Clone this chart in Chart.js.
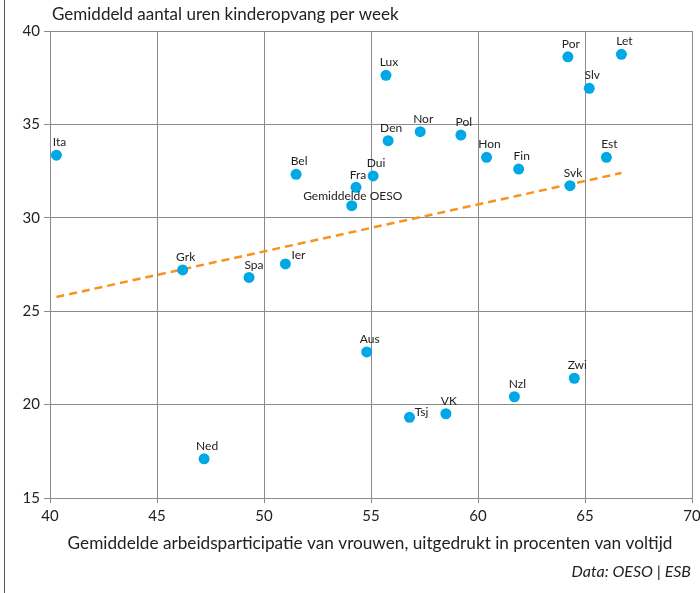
<!DOCTYPE html>
<html>
<head>
<meta charset="utf-8">
<script src="https://cdn.jsdelivr.net/npm/chart.js@4"></script>
<style>
  html, body { margin: 0; padding: 0; background: #fff; }
  #wrap { position: relative; width: 700px; height: 593px; }
  #edge { position: absolute; left: 4px; top: 0; width: 1px; height: 593px; background: #555; }
  #canvas { position: absolute; left: 0; top: 0; }
</style>
</head>
<body>
<div id="wrap">
  <div id="edge"></div>
  <canvas id="canvas" width="700" height="593"></canvas>
</div>
<script>
const countries = ['Ita','Bel','Lux','Den','Nor','Pol','Hon','Fin','Svk','Est','Por','Let','Slv',
  'Dui','Fra','Gemiddelde OESO','Grk','Spa','Ier','Aus','Zwi','Nzl','Tsj','VK','Ned'];
const participation = [40.3, 51.5, 55.7, 55.8, 57.3, 59.2, 60.4, 61.9, 64.3, 66.0, 64.2, 66.7, 65.2,
  55.1, 54.3, 54.1, 46.2, 49.3, 51.0, 54.8, 64.5, 61.7, 56.8, 58.5, 47.2];
const childcareHours = [33.35, 32.33, 37.63, 34.13, 34.61, 34.43, 33.24, 32.61, 31.72, 33.24, 38.62, 38.75, 36.93,
  32.24, 31.63, 30.65, 27.21, 26.81, 27.53, 22.82, 21.41, 20.42, 19.32, 19.51, 17.1];
const trendX = [40.3, 66.7];
const trendY = [25.76, 32.4];
const xTicks = [40, 45, 50, 55, 60, 65, 70];
const yTicks = [15, 20, 25, 30, 35, 40];

// label offsets (style only)
const labelShift = {
  'Ier': [13, -9], 'Tsj': [12, -5], 'Spa': [5, -12],
  'Gemiddelde OESO': [1, -10], 'Fra': [2, -12]
};

const FONT = 'Lato';
const TEXT = '#222';

const pointLabels = {
  id: 'pointLabels',
  afterDatasetsDraw(chart){
    const ctx = chart.ctx;
    const meta = chart.getDatasetMeta(0);
    ctx.save();
    ctx.font = '12px ' + FONT;
    ctx.fillStyle = TEXT;
    ctx.textAlign = 'center';
    ctx.textBaseline = 'middle';
    meta.data.forEach((pt, i) => {
      const name = countries[i];
      const s = labelShift[name] || [3, -13];
      ctx.fillText(name, pt.x + s[0], pt.y + s[1]);
    });
    ctx.restore();
  }
};

const extraText = {
  id: 'extraText',
  afterDraw(chart){
    const ctx = chart.ctx;
    ctx.save();
    ctx.fillStyle = TEXT;
    ctx.textBaseline = 'middle';
    ctx.font = '17px ' + FONT;
    ctx.textAlign = 'left';
    ctx.fillText('Gemiddeld aantal uren kinderopvang per week', 52, 15);
    ctx.font = '17.2px ' + FONT;
    ctx.textAlign = 'center';
    ctx.fillText('Gemiddelde arbeidsparticipatie van vrouwen, uitgedrukt in procenten van voltijd', 370, 543);
    ctx.font = 'italic 16px ' + FONT;
    ctx.textAlign = 'right';
    ctx.fillText('Data: OESO | ESB', 691, 572);
    ctx.restore();
  }
};

new Chart(document.getElementById('canvas'), {
  plugins: [pointLabels, extraText],
  data: {
    datasets: [{
      type: 'scatter',
      data: participation.map((x, i) => ({x: x, y: childcareHours[i]})),
      backgroundColor: '#00a9e6',
      borderWidth: 0,
      pointRadius: 5.5,
      order: 1
    },
    {
      type: 'line',
      data: trendX.map((x, i) => ({x: x, y: trendY[i]})),
      borderColor: '#f7931e',
      borderWidth: 2.5,
      borderDash: [8, 5],
      pointRadius: 0,
      fill: false,
      order: 2
    }]
  },
  options: {
    responsive: false,
    animation: false,
    events: [],
    layout: { padding: { top: 31, right: 0, left: 0, bottom: 0 } },
    plugins: {
      legend: { display: false },
      tooltip: { enabled: false }
    },
    scales: {
      x: {
        type: 'linear',
        min: 40, max: 70,
        afterBuildTicks: (s) => { s.ticks = xTicks.map(v => ({value: v})); },
        afterFit: (s) => { s.height = 95; s.paddingLeft = 0; s.paddingRight = 8; },
        grid: { color: '#8a8a8a', lineWidth: 1, tickLength: 5 },
        border: { color: '#8a8a8a' },
        ticks: { color: TEXT, font: { family: FONT, size: 15 }, padding: 4, maxRotation: 0 }
      },
      y: {
        type: 'linear',
        min: 15, max: 40,
        afterBuildTicks: (s) => { s.ticks = yTicks.map(v => ({value: v})); },
        afterFit: (s) => { s.width = 50; s.paddingTop = 0; s.paddingBottom = 0; },
        grid: { color: '#8a8a8a', lineWidth: 1, tickLength: 6 },
        border: { color: '#8a8a8a' },
        ticks: { color: TEXT, font: { family: FONT, size: 15 }, padding: 4 }
      }
    }
  }
});
</script>
</body>
</html>
